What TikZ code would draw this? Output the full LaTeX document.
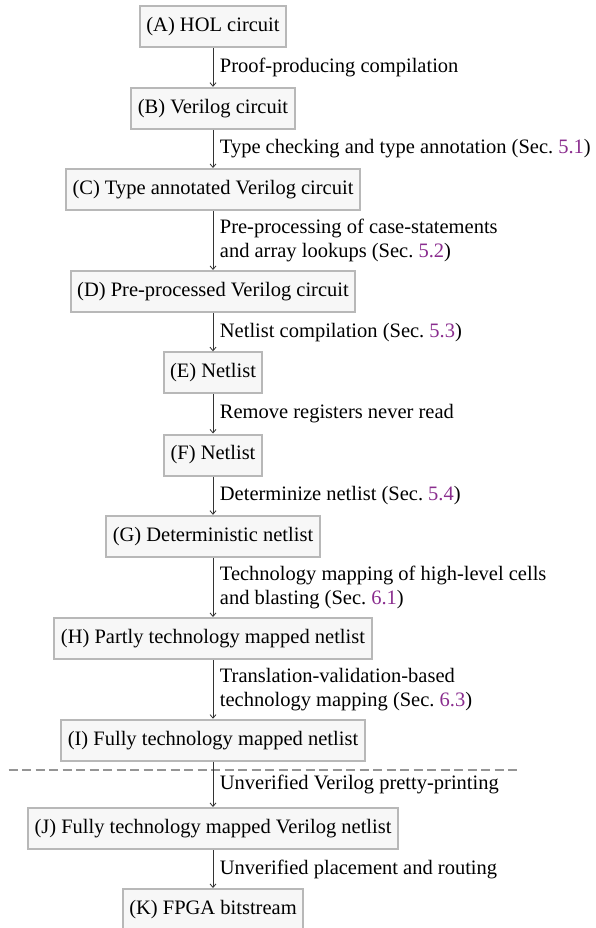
\documentclass[tikz,border=0pt]{standalone}
\usepackage{fontspec}
\setmainfont{Liberation Serif}
\usetikzlibrary{arrows.meta}
\definecolor{boxline}{HTML}{B8B8B8}
\definecolor{boxfill}{HTML}{F7F7F7}
\definecolor{refcol}{HTML}{8A2D8E}
\definecolor{arrcol}{HTML}{333333}
\definecolor{dashcol}{HTML}{959595}
\newcommand{\sref}[1]{\textcolor{refcol}{#1}}
\tikzset{
  stage/.style={draw=boxline, fill=boxfill, line width=2pt, minimum height=41pt,
    inner xsep=6.5pt, inner ysep=0pt, font=\fontsize{20.5}{24.5}\selectfont, text=black},
  flow/.style={draw=arrcol, line width=0.8pt, -{Straight Barb[length=3.5pt,width=6pt]}},
  lab/.style={anchor=west, xshift=6.5pt, inner sep=0pt, align=left,
    font=\fontsize{20.5}{24.5}\selectfont, text=black},
  sep/.style={draw=dashcol, line width=1.8pt, dash pattern=on 9pt off 4.5pt}
}
\begin{document}
\begin{tikzpicture}[x=1pt,y=-1pt]
\useasboundingbox (0,0) rectangle (596,928);
\node[stage] (A) at (213,26.7) {(A) HOL circuit};
\node[stage] (B) at (213,108.3) {(B) Verilog circuit};
\node[stage] (C) at (213,189.5) {(C) Type annotated Verilog circuit};
\node[stage] (D) at (213,291.5) {(D) Pre-processed Verilog circuit};
\node[stage] (E) at (213,372.8) {(E) Netlist};
\node[stage] (F) at (213,455) {(F) Netlist};
\node[stage] (G) at (213,536.3) {(G) Deterministic netlist};
\node[stage] (H) at (213,638.5) {(H) Partly technology mapped netlist};
\node[stage] (I) at (213,740.2) {(I) Fully technology mapped netlist};
\node[stage] (J) at (213,828.5) {(J) Fully technology mapped Verilog netlist};
\node[stage] (K) at (213,909.5) {(K) FPGA bitstream};
\coordinate (dl) at (8.5,769.7);
\coordinate (dr) at (519,769.7);
\draw[sep] (dl) -- (dr);
\draw[flow] (A) -- (B) node[lab,midway] {Proof-producing compilation};
\draw[flow] (B) -- (C) node[lab,midway] {Type checking and type annotation (Sec.~\sref{5.1})};
\draw[flow] (C) -- (D) node[lab,midway] {Pre-processing of case-statements\\and array lookups (Sec.~\sref{5.2})};
\draw[flow] (D) -- (E) node[lab,midway] {Netlist compilation (Sec.~\sref{5.3})};
\draw[flow] (E) -- (F) node[lab,midway] {Remove registers never read};
\draw[flow] (F) -- (G) node[lab,midway] {Determinize netlist (Sec.~\sref{5.4})};
\draw[flow] (G) -- (H) node[lab,midway] {Technology mapping of high-level cells\\and blasting (Sec.~\sref{6.1})};
\draw[flow] (H) -- (I) node[lab,midway] {Translation-validation-based\\technology mapping (Sec.~\sref{6.3})};
\draw[flow] (I) -- (J) node[lab,midway] {Unverified Verilog pretty-printing};
\draw[flow] (J) -- (K) node[lab,midway] {Unverified placement and routing};
\end{tikzpicture}
\end{document}
